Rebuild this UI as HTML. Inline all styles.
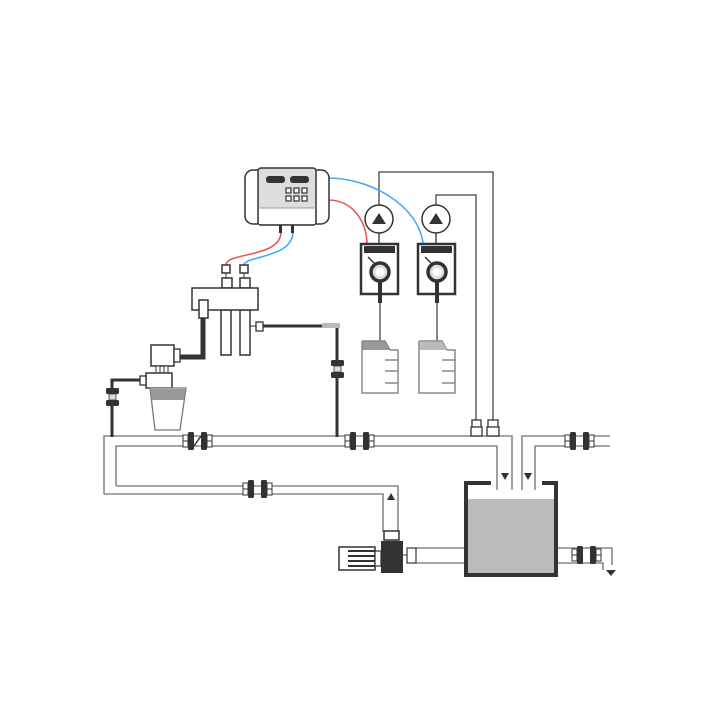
<!DOCTYPE html>
<html><head><meta charset="utf-8"><style>html,body{margin:0;padding:0;background:#fff}svg{display:block}</style></head><body>
<svg width="720" height="720" viewBox="0 0 720 720" xmlns="http://www.w3.org/2000/svg">
<defs>
<g id="cpl">
 <rect x="0" y="-3" width="5" height="12" fill="#fff" stroke="#333" stroke-width="1"/>
 <line x1="0" y1="3" x2="5" y2="3" stroke="#333"/>
 <rect x="5" y="-6" width="6" height="18" rx="1.5" fill="#333"/>
 <rect x="18" y="-6" width="6" height="18" rx="1.5" fill="#333"/>
 <rect x="24" y="-3" width="5" height="12" fill="#fff" stroke="#333" stroke-width="1"/>
 <line x1="24" y1="3" x2="29" y2="3" stroke="#333"/>
</g>
<g id="vcpl">
 <rect x="-6" y="0" width="13" height="6" rx="1.5" fill="#333"/>
 <rect x="-6" y="12" width="13" height="6" rx="1.5" fill="#333"/>
 <rect x="-3" y="6" width="7" height="6" fill="#ddd" stroke="#333" stroke-width="0.8"/>
</g>
</defs>
<g fill="none" stroke="#888" stroke-width="1.6">
 <!-- top pipe -->
 <polyline points="104,494 104,436 512,436 512,490"/>
 <polyline points="383,532 383,494 104,494"/>
 <polyline points="116,486 116,446 497,446 497,490"/>
 <polyline points="116,486 398,486 398,532"/>
 <!-- right pipe -->
 <polyline points="522,490 522,436 610,436"/>
 <polyline points="535,490 535,446 610,446"/>
 <!-- outlet pipe -->
 <line x1="416" y1="548" x2="464" y2="548"/>
 <line x1="416" y1="563" x2="464" y2="563"/>
 <polyline points="558,548 612,548 612,565"/>
 <polyline points="558,563 603,563 603,570"/>
</g>
<g fill="#fff" stroke="#888" stroke-width="1.6"><rect x="0" y="0" width="0" height="0"/></g>
<!-- arrows -->
<polygon points="501,473 509,473 505,480" fill="#333"/>
<polygon points="524,473 532,473 528,480" fill="#333"/>
<polygon points="387,500 395,500 391,493" fill="#333"/>
<polygon points="606,570 616,570 611,576" fill="#333"/>
<!-- couplers on pipes -->
<use href="#cpl" x="183" y="438"/>
<line x1="194" y1="446" x2="201" y2="436" stroke="#333" stroke-width="1.5"/>
<use href="#cpl" x="345" y="438"/>
<use href="#cpl" x="565" y="438"/>
<use href="#cpl" x="243" y="486"/>
<use href="#cpl" x="572" y="552"/>
<!-- tank -->
<rect x="467" y="499" width="88" height="75" fill="#bbb"/>
<polyline points="491,483 466,483 466,575 556,575 556,483 542,483" fill="none" stroke="#333" stroke-width="4"/>
<!-- pump & motor -->
<rect x="384" y="531" width="15" height="9" fill="#fff" stroke="#333" stroke-width="1.5"/>
<rect x="381" y="541" width="22" height="32" fill="#333"/>
<rect x="339" y="547" width="36" height="23" fill="#fff" stroke="#333" stroke-width="1.5"/>
<g stroke="#333" stroke-width="2"><line x1="348" y1="551" x2="375" y2="551"/><line x1="348" y1="556" x2="375" y2="556"/><line x1="348" y1="561" x2="375" y2="561"/><line x1="348" y1="566" x2="375" y2="566"/></g>
<rect x="375" y="551" width="6" height="15" fill="#fff" stroke="#333" stroke-width="1.2"/>
<rect x="407" y="548" width="9" height="15" fill="#fff" stroke="#333" stroke-width="1.2"/>
<line x1="403" y1="555" x2="407" y2="555" stroke="#333"/>
<!-- sensor lines -->
<g fill="none" stroke="#444" stroke-width="1.3">
 <polyline points="379,205 379,172 493,172 493,420"/>
 <polyline points="436,205 436,195 476,195 476,420"/>
</g>
<rect x="488" y="420" width="10" height="8" fill="#fff" stroke="#333" stroke-width="1.3"/>
<rect x="487" y="427" width="12" height="9" fill="#fff" stroke="#333" stroke-width="1.3"/>
<rect x="472" y="420" width="9" height="8" fill="#fff" stroke="#333" stroke-width="1.3"/>
<rect x="471" y="427" width="11" height="9" fill="#fff" stroke="#333" stroke-width="1.3"/>
<!-- cables -->
<path d="M328,200 C352,200 366,220 367,243" fill="none" stroke="#e55" stroke-width="1.6"/>
<path d="M328,178 C370,178 418,205 423,243" fill="none" stroke="#4af" stroke-width="1.6"/>
<path d="M281,232 C281,258 226,252 226,265" fill="none" stroke="#e55" stroke-width="1.6"/>
<path d="M293,232 C293,258 244,256 244,265" fill="none" stroke="#4af" stroke-width="1.6"/>
<!-- controller -->
<rect x="245" y="170" width="20" height="54" rx="8" fill="#fff" stroke="#333" stroke-width="1.5"/>
<rect x="309" y="170" width="20" height="54" rx="8" fill="#fff" stroke="#333" stroke-width="1.5"/>
<rect x="258" y="168" width="58" height="57" rx="3" fill="#ddd" stroke="#333" stroke-width="1.5"/>
<rect x="259" y="208" width="56" height="16" fill="#fff"/>
<line x1="258" y1="208" x2="316" y2="208" stroke="#999"/>
<rect x="266" y="176" width="19" height="7" rx="3" fill="#333"/>
<rect x="290" y="176" width="19" height="7" rx="3" fill="#333"/>
<g fill="#fff" stroke="#333" stroke-width="1.2">
 <rect x="286" y="188" width="5" height="5"/><rect x="294" y="188" width="5" height="5"/><rect x="302" y="188" width="5" height="5"/>
 <rect x="286" y="196" width="5" height="5"/><rect x="294" y="196" width="5" height="5"/><rect x="302" y="196" width="5" height="5"/>
</g>
<rect x="279" y="225" width="3" height="8" fill="#333"/>
<rect x="291" y="225" width="3" height="8" fill="#333"/>
<!-- manifold -->
<g fill="#fff" stroke="#333" stroke-width="1.5">
 <rect x="222" y="265" width="8" height="8"/><rect x="240" y="265" width="8" height="8"/>
 <rect x="222" y="278" width="10" height="10"/><rect x="240" y="278" width="10" height="10"/>
 <rect x="221" y="310" width="10" height="45"/><rect x="240" y="310" width="10" height="45"/>
 <rect x="192" y="288" width="66" height="22"/>
</g>
<line x1="226" y1="273" x2="226" y2="278" stroke="#333"/><line x1="244" y1="273" x2="244" y2="278" stroke="#333"/>
<polyline points="203,316 203,357 180,357" fill="none" stroke="#333" stroke-width="5"/>
<rect x="199" y="300" width="9" height="18" fill="#fff" stroke="#333" stroke-width="1.5"/>
<line x1="250" y1="326" x2="256" y2="326" stroke="#333"/>
<rect x="256" y="322" width="7" height="9" fill="#fff" stroke="#333" stroke-width="1.3"/>
<line x1="263" y1="326" x2="322" y2="326" stroke="#333" stroke-width="3"/>
<rect x="322" y="323" width="18" height="5" fill="#bbb"/>
<line x1="337" y1="328" x2="337" y2="437" stroke="#333" stroke-width="3"/>
<use href="#vcpl" x="337" y="360"/>
<use href="#vcpl" x="337" y="374" opacity="0"/>
<!-- solenoid and cup -->
<rect x="151" y="345" width="23" height="21" fill="#fff" stroke="#333" stroke-width="1.5"/>
<rect x="174" y="349" width="6" height="13" fill="#fff" stroke="#333" stroke-width="1.3"/>
<rect x="156" y="366" width="4" height="7" fill="#fff" stroke="#333"/><rect x="164" y="366" width="4" height="7" fill="#fff" stroke="#333"/>
<rect x="146" y="373" width="26" height="15" fill="#fff" stroke="#333" stroke-width="1.5"/>
<rect x="140" y="376" width="6" height="9" fill="#fff" stroke="#333" stroke-width="1.3"/>
<polygon points="150,388 186,388 180,430 155,430" fill="#fff" stroke="#777" stroke-width="1.3"/>
<polygon points="150.5,389 185.5,389 184,400 152,400" fill="#999"/>
<polyline points="140,380 112,380 112,437" fill="none" stroke="#333" stroke-width="3"/>
<use href="#vcpl" x="112" y="388"/>
<use href="#vcpl" x="112" y="406" opacity="0"/>
<!-- dosing pumps -->
<g id="dp">
 <circle cx="379" cy="219" r="14" fill="#fff" stroke="#333" stroke-width="1.5"/>
 <polygon points="372,224 386,224 379,213" fill="#333"/>
 <line x1="379" y1="233" x2="379" y2="243" stroke="#333" stroke-width="1.3"/>
 <rect x="361" y="244" width="37" height="50" fill="#fff" stroke="#333" stroke-width="2.5"/>
 <rect x="364" y="246" width="31" height="7" fill="#333"/>
 <circle cx="380" cy="272" r="9" fill="#ddd" stroke="#333" stroke-width="3.5"/>
 <circle cx="380" cy="272" r="4.5" fill="#fff"/>
 <line x1="368" y1="257" x2="374" y2="263" stroke="#333" stroke-width="1.5"/>
 <rect x="378" y="281" width="4" height="22" fill="#333"/>
 <line x1="380" y1="303" x2="380" y2="341" stroke="#444" stroke-width="1.3"/>
 <polygon points="362,341 385,341 390,350 362,350" fill="#999"/>
 <polyline points="362,341 385,341 390,350 398,350 398,393 362,393 362,341" fill="none" stroke="#888" stroke-width="1.5"/>
 <g stroke="#888" stroke-width="1.5"><line x1="385" y1="360" x2="398" y2="360"/><line x1="385" y1="371" x2="398" y2="371"/><line x1="385" y1="383" x2="398" y2="383"/></g>
</g>
<use href="#dp" x="57" y="0"/>
<polygon points="419.5,341.5 442,341.5 447,350 419.5,350" fill="#bbb"/>
</svg>
</body></html>
